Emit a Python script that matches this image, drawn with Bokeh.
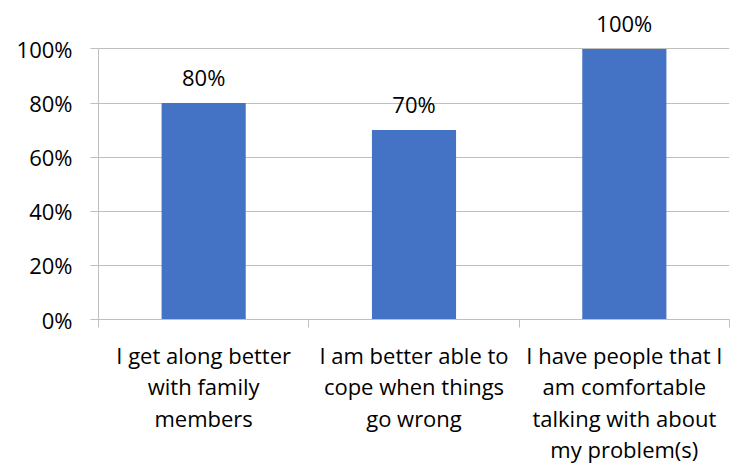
from bokeh.plotting import figure
from bokeh.models import Range1d, FixedTicker, NumeralTickFormatter, ColumnDataSource
from bokeh.core.properties import value
from bokeh.embed import file_html
from bokeh.resources import INLINE

categories = [
    "I get along better\nwith family\nmembers",
    "I am better able to\ncope when things\ngo wrong",
    "I have people that I\nam comfortable\ntalking with about\nmy problem(s)",
]
values = [0.80, 0.70, 1.00]
value_labels = ["80%", "70%", "100%"]
y_ticks = [0, 0.2, 0.4, 0.6, 0.8, 1.0]

FONT = "Open Sans"
FS = "22px"
GRID = "#bfbfbf"

xs = [i + 0.5 for i in range(len(categories))]
src = ColumnDataSource(dict(x=xs, top=values, lab=value_labels))

p = figure(width=738, height=467, output_backend="svg", toolbar_location=None,
           x_range=Range1d(0, len(categories)), y_range=Range1d(0, 1.179),
           min_border_left=98, min_border_right=9, min_border_top=0, min_border_bottom=144)
p.outline_line_color = None
p.background_fill_color = "white"
p.border_fill_color = "white"

p.vbar(x="x", top="top", width=0.4, source=src, fill_color="#4472C4", line_color=None)
p.text(x="x", y="top", text="lab", source=src, text_align="center", text_baseline="middle",
       y_offset=-26, text_font=value(FONT), text_font_size=FS, text_color="#000000")

# x axis
xa = p.xaxis[0]
xa.ticker = FixedTicker(ticks=xs, minor_ticks=list(range(len(categories) + 1)))
xa.major_label_overrides = {x: c for x, c in zip(xs, categories)}
xa.major_tick_out = 0
xa.major_tick_in = 0
xa.minor_tick_out = 8
xa.minor_tick_in = 0
xa.minor_tick_line_color = GRID
xa.axis_line_color = GRID
xa.major_label_standoff = 12
xa.major_label_text_font = FONT
xa.major_label_text_font_size = FS
xa.major_label_text_color = "#000000"
xa.major_label_text_line_height = 1.05

# y axis
ya = p.yaxis[0]
ya.ticker = FixedTicker(ticks=y_ticks, minor_ticks=[])
ya.formatter = NumeralTickFormatter(format="0%")
ya.bounds = (0, 1)
ya.major_tick_out = 8
ya.major_tick_in = 0
ya.major_tick_line_color = GRID
ya.axis_line_color = GRID
ya.major_label_standoff = 18
ya.major_label_text_font = FONT
ya.major_label_text_font_size = FS
ya.major_label_text_color = "#000000"

p.xgrid.grid_line_color = None
p.ygrid.ticker = FixedTicker(ticks=y_ticks[1:])
p.ygrid.grid_line_color = GRID

open("out.html", "w").write(file_html(p, INLINE))
